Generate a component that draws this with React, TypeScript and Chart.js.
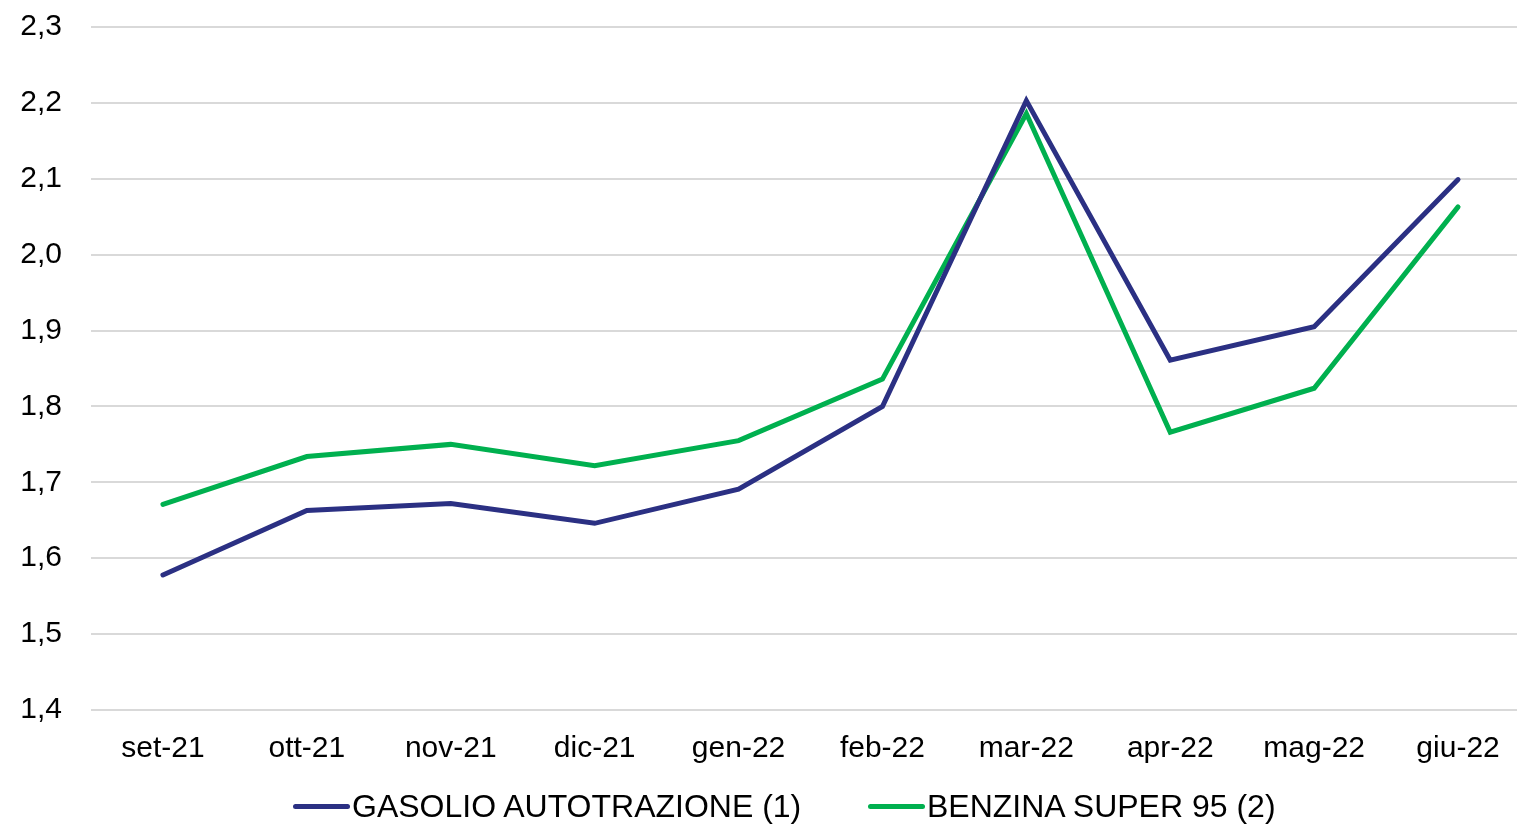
import React, { useEffect, useRef } from "react";
import { Chart, registerables } from "chart.js";

Chart.register(...registerables);

const categories = ["set-21", "ott-21", "nov-21", "dic-21", "gen-22", "feb-22", "mar-22", "apr-22", "mag-22", "giu-22"];
const gasolio = [1.578, 1.663, 1.672, 1.646, 1.691, 1.800, 2.203, 1.861, 1.905, 2.099];
const benzina = [1.671, 1.734, 1.750, 1.722, 1.755, 1.836, 2.186, 1.766, 1.824, 2.063];
const seriesNames = ["GASOLIO AUTOTRAZIONE (1)", "BENZINA SUPER 95 (2)"];
const seriesColors = ["#2B3083", "#00B04F"];

const FONT = "'Liberation Sans', Arial, sans-serif";

export default function App() {
  const ref = useRef<HTMLCanvasElement | null>(null);

  useEffect(() => {
    if (!ref.current) return;
    const chart = new Chart(ref.current, {
      type: "line",
      data: {
        labels: categories,
        datasets: [
          { label: seriesNames[0], data: gasolio, borderColor: seriesColors[0], backgroundColor: seriesColors[0] },
          { label: seriesNames[1], data: benzina, borderColor: seriesColors[1], backgroundColor: seriesColors[1] },
        ].map((d) => ({
          ...d,
          borderWidth: 5,
          pointRadius: 0,
          pointHoverRadius: 0,
          tension: 0,
          borderCapStyle: "round" as const,
          borderJoinStyle: "miter" as const,
          fill: false,
        })),
      },
      options: {
        animation: false,
        responsive: false,
        maintainAspectRatio: false,
        layout: { padding: { left: 20, top: 6, right: 0, bottom: 36 } },
        plugins: {
          legend: { display: false },
          tooltip: { enabled: false },
        },
        scales: {
          x: {
            offset: true,
            grid: { display: false, drawTicks: false },
            border: { display: false },
            ticks: { color: "#000", font: { family: FONT, size: 30 }, padding: 21, maxRotation: 0, autoSkip: false },
          },
          y: {
            min: 1.4,
            max: 2.3,
            afterFit: (axis: any) => {
              axis.width = 71;
            },
            grid: { color: "#d9d9d9", lineWidth: 2, drawTicks: false },
            border: { display: false },
            ticks: {
              stepSize: 0.1,
              color: "#000",
              font: { family: FONT, size: 30 },
              padding: 29,
              callback: (v: any) => Number(v).toFixed(1).replace(".", ","),
            },
          },
        },
      },
    });
    return () => chart.destroy();
  }, []);

  const legendItem = (i: number, left: number) => (
    <div
      key={i}
      style={{
        position: "absolute",
        left,
        top: 786,
        height: 40,
        display: "flex",
        alignItems: "center",
        fontFamily: FONT,
        fontSize: 32,
        color: "#000",
        whiteSpace: "nowrap",
      }}
    >
      <span
        style={{
          display: "inline-block",
          width: 57,
          height: 5,
          borderRadius: 3,
          background: seriesColors[i],
          marginRight: 2,
        }}
      />
      <span>{seriesNames[i]}</span>
    </div>
  );

  return (
    <div style={{ position: "fixed", left: 0, top: 0, width: 1517, height: 824, overflow: "hidden", background: "#fff" }}>
      <canvas ref={ref} width={1530} height={844} style={{ position: "absolute", left: 0, top: -20, width: 1530, height: 844 }} />
      {legendItem(0, 293)}
      {legendItem(1, 868)}
    </div>
  );
}
